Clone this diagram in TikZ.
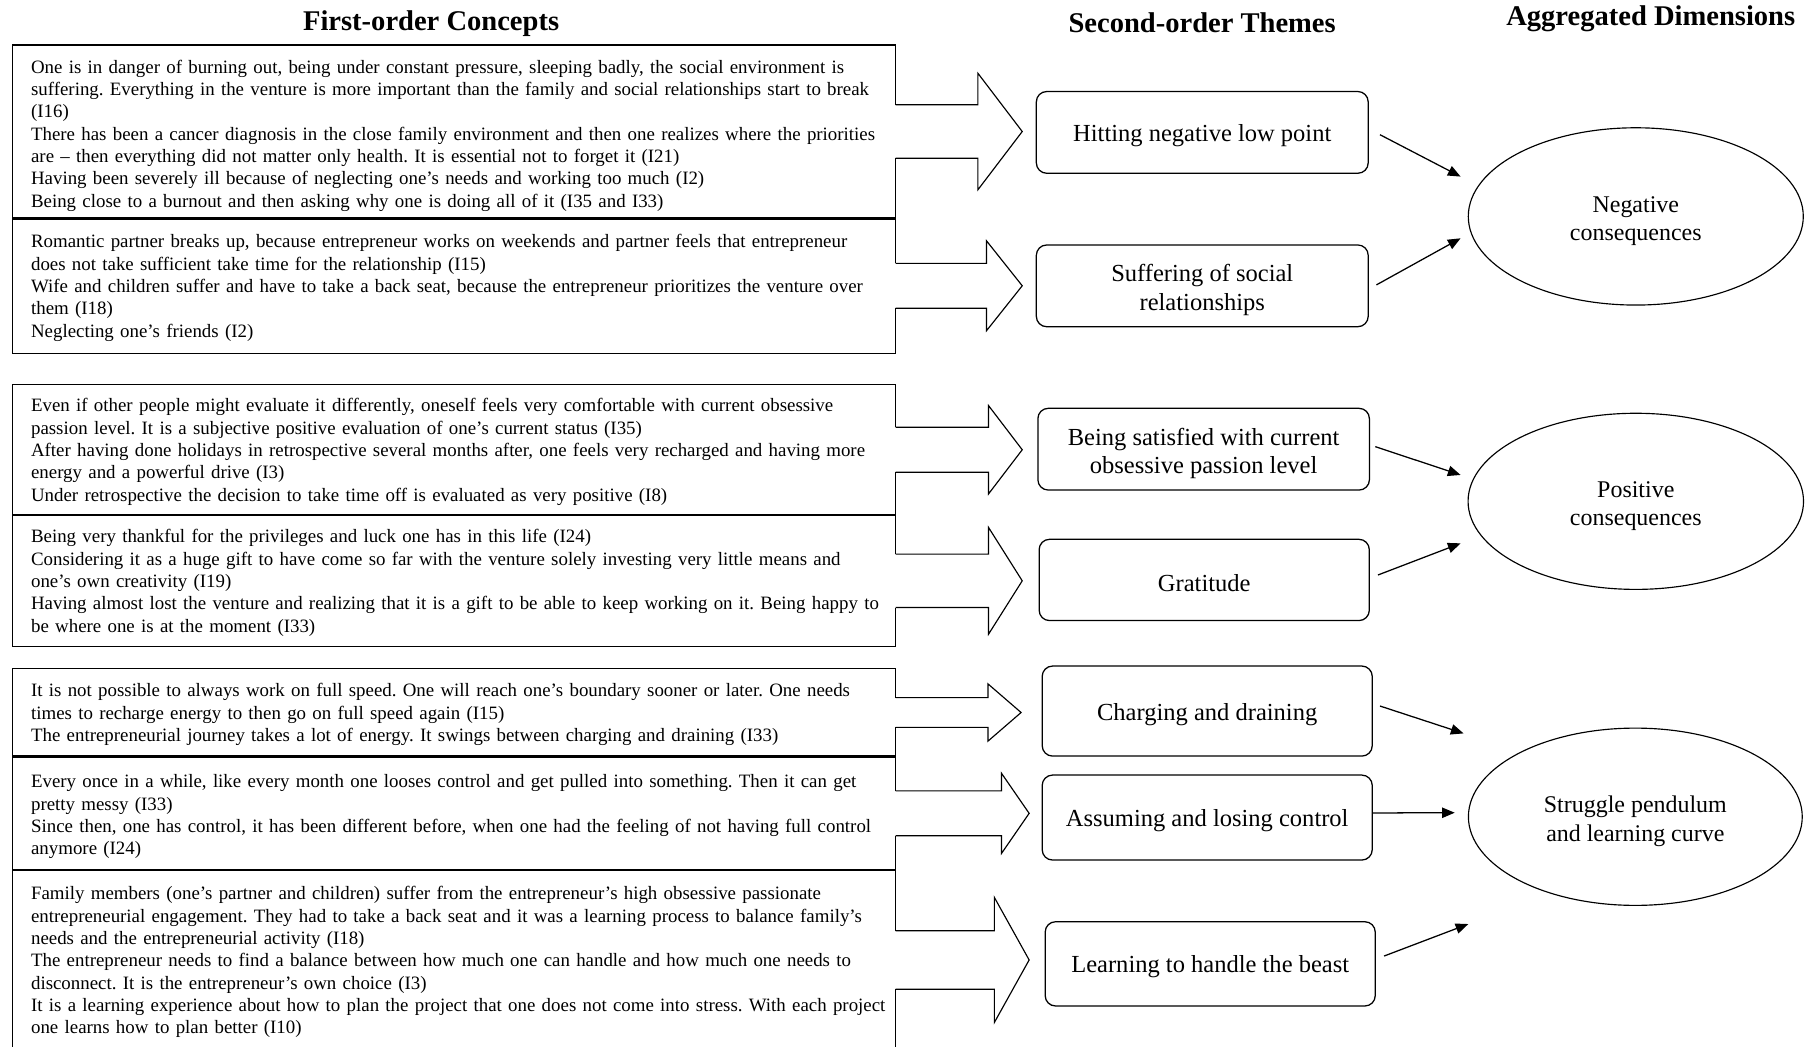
\documentclass[tikz,border=0pt]{standalone}
\usepackage{fontspec}
\setmainfont{Liberation Serif}
\usetikzlibrary{arrows.meta,calc,shapes.geometric}
\frenchspacing
\newcommand{\myBody}{\fontsize{16.4bp}{19.4bp}\selectfont}
\newcommand{\myTheme}{\fontsize{21.3bp}{24.7bp}\selectfont}
\newcommand{\myDim}{\fontsize{20.8bp}{24.4bp}\selectfont}
\newcommand{\myTitle}{\fontsize{24.8bp}{28bp}\selectfont\bfseries}
\newcommand{\toprow}[1]{\rule{0pt}{#1}}
\newcommand{\twoT}[2]{\begin{tabular}{@{}c@{}}\toprow{25.2bp}#1\\#2\end{tabular}}
\newcommand{\twoD}[2]{\begin{tabular}{@{}c@{}}\toprow{25.1bp}#1\\#2\end{tabular}}
% block arrow: node, shaft half, head half, head base dx, tip dx
\newcommand{\blockarr}[5]{%
  \fill[white] ($(#1.east)+(-1.6,-#2)$) rectangle ($(#1.east)+(1.6,#2)$);
  \draw[blk] ($(#1.east)+(0,-#2)$) -- ($(#1.east)+(#4,-#2)$) -- ($(#1.east)+(#4,-#3)$)
    -- ($(#1.east)+(#5,0)$) -- ($(#1.east)+(#4,#3)$) -- ($(#1.east)+(#4,#2)$) -- ($(#1.east)+(0,#2)$);
}
\begin{document}
\begin{tikzpicture}[x=1bp,y=-1bp,
  fo/.style={draw, line width=1.1bp, minimum width=767bp, text width=735bp, inner xsep=16bp,
     inner ysep=0pt, outer sep=0pt, align=left, anchor=north west, font=\myBody},
  theme/.style={draw, rounded corners=9bp, line width=1.1bp, align=center, font=\myTheme,
     inner sep=0pt, outer sep=0pt, execute at begin node={\rule{0pt}{20.2bp}}},
  dim/.style={draw, ellipse, line width=1bp, align=center, font=\myDim, inner sep=0pt, outer sep=0pt},
  arr/.style={line width=1.1bp, -{Triangle[length=11bp,width=9bp]}},
  blk/.style={line width=1bp, line join=miter},
  ttl/.style={font=\myTitle, anchor=base, inner sep=0pt},
  divider/.style={line width=2.4bp}
]
\useasboundingbox (0,0) rectangle (1568,909);
\fill[white] (0,0) rectangle (1568,909);

% titles
\node[ttl] (T1) at (374.5,26.5) {First-order Concepts};
\node[ttl] (T2) at (1044.3,28.5) {Second-order Themes};
\node[ttl] (T3) at (1434,22) {Aggregated Dimensions};

% first-order concept boxes
\node[fo, minimum height=150.5bp] (A1) at (11,39) {\begin{tabular}{@{}l@{}}
\toprow{20.6bp}One is in danger of burning out, being under constant pressure, sleeping badly, the social environment is\\
suffering. Everything in the venture is more important than the family and social relationships start to break\\
(I16)\\
There has been a cancer diagnosis in the close family environment and then one realizes where the priorities\\
are – then everything did not matter only health. It is essential not to forget it (I21)\\
Having been severely ill because of neglecting one’s needs and working too much (I2)\\
Being close to a burnout and then asking why one is doing all of it (I35 and I33)
\end{tabular}};
\node[fo, minimum height=117.5bp] (A2) at (11,189.5) {\begin{tabular}{@{}l@{}}
\toprow{17.6bp}Romantic partner breaks up, because entrepreneur works on weekends and partner feels that entrepreneur\\
does not take sufficient take time for the relationship (I15)\\
Wife and children suffer and have to take a back seat, because the entrepreneur prioritizes the venture over\\
them (I18)\\
Neglecting one’s friends (I2)
\end{tabular}};
\node[fo, minimum height=113.4bp] (B1) at (11,334) {\begin{tabular}{@{}l@{}}
\toprow{17.6bp}Even if other people might evaluate it differently, oneself feels very comfortable with current obsessive\\
passion level. It is a subjective positive evaluation of one’s current status (I35)\\
After having done holidays in retrospective several months after, one feels very recharged and having more\\
energy and a powerful drive (I3)\\
Under retrospective the decision to take time off is evaluated as very positive (I8)
\end{tabular}};
\node[fo, minimum height=114.3bp] (B2) at (11,447.4) {\begin{tabular}{@{}l@{}}
\toprow{17.6bp}Being very thankful for the privileges and luck one has in this life (I24)\\
Considering it as a huge gift to have come so far with the venture solely investing very little means and\\
one’s own creativity (I19)\\
Having almost lost the venture and realizing that it is a gift to be able to keep working on it. Being happy to\\
be where one is at the moment (I33)
\end{tabular}};
\node[fo, minimum height=76.7bp] (C1) at (11,580.6) {\begin{tabular}{@{}l@{}}
\toprow{17.6bp}It is not possible to always work on full speed. One will reach one’s boundary sooner or later. One needs\\
times to recharge energy to then go on full speed again (I15)\\
The entrepreneurial journey takes a lot of energy. It swings between charging and draining (I33)
\end{tabular}};
\node[fo, minimum height=98.5bp] (C2) at (11,657.3) {\begin{tabular}{@{}l@{}}
\toprow{19.6bp}Every once in a while, like every month one looses control and get pulled into something. Then it can get\\
pretty messy (I33)\\
Since then, one has control, it has been different before, when one had the feeling of not having full control\\
anymore (I24)
\end{tabular}};
\node[fo, minimum height=156.2bp] (C3) at (11,755.8) {\begin{tabular}{@{}l@{}}
\toprow{17.6bp}Family members (one’s partner and children) suffer from the entrepreneur’s high obsessive passionate\\
entrepreneurial engagement. They had to take a back seat and it was a learning process to balance family’s\\
needs and the entrepreneurial activity (I18)\\
The entrepreneur needs to find a balance between how much one can handle and how much one needs to\\
disconnect. It is the entrepreneur’s own choice (I3)\\
It is a learning experience about how to plan the project that one does not come into stress. With each project\\
one learns how to plan better (I10)
\end{tabular}};

% double dividers between adjacent boxes
\draw[divider] (A1.south west) -- (A1.south east);
\draw[divider] (B1.south west) -- (B1.south east);
\draw[divider] (C1.south west) -- (C1.south east);
\draw[divider] (C2.south west) -- (C2.south east);

% block arrows
\blockarr{A1}{23.2}{50.6}{71.5}{110}
\blockarr{A2}{19.5}{39}{79}{110}
\blockarr{B1}{19.5}{38.4}{80.7}{110}
\blockarr{B2}{23.2}{46.4}{80.7}{110}
\blockarr{C1}{12.9}{24.9}{80.2}{109}
\blockarr{C2}{19.5}{34.8}{92}{116}
\blockarr{C3}{25.4}{54.3}{85.8}{116}

% second-order themes
\node[theme, minimum width=288.3bp, minimum height=71bp] (H1) at (1044.4,115) {Hitting negative low point};
\node[theme, minimum width=288.3bp, minimum height=71bp] (H2) at (1044.4,248.3) {\twoT{Suffering of social}{relationships}};
\node[theme, minimum width=288bp, minimum height=71bp] (P1) at (1045.6,390.2) {\twoT{Being satisfied with current}{obsessive passion level}};
\node[theme, minimum width=286.8bp, minimum height=70.6bp] (P2) at (1046.1,503.8) {Gratitude};
\node[theme, minimum width=286.7bp, minimum height=78.2bp] (S1) at (1048.7,617.7) {Charging and draining};
\node[theme, minimum width=286.7bp, minimum height=73.8bp] (S2) at (1048.7,710.2) {Assuming and losing control};
\node[theme, minimum width=286.7bp, minimum height=73.2bp] (S3) at (1051.3,837.3) {Learning to handle the beast};

% aggregated dimensions
\node[dim, minimum width=291bp, minimum height=154bp] (NEG) at (1421,188) {\twoD{Negative}{consequences}};
\node[dim, minimum width=291.4bp, minimum height=153bp] (POS) at (1421,435.5) {\twoD{Positive}{consequences}};
\node[dim, minimum width=290bp, minimum height=154bp] (STR) at (1420.6,709.5) {\twoD{Struggle pendulum}{and learning curve}};

% connectors
\draw[arr] ($(H1.east)+(10.2,2)$) -- ($(NEG.west)+(-6.7,-34.6)$);
\draw[arr] ($(H2.east)+(7.1,-0.8)$) -- ($(NEG.west)+(-6.7,19)$);
\draw[arr] ($(P1.east)+(5.1,-2.2)$) -- ($(POS.west)+(-6.5,-22.9)$);
\draw[arr] ($(P2.east)+(7.5,-4.3)$) -- ($(POS.west)+(-6.5,36.5)$);
\draw[arr] ($(S1.east)+(6.7,-4.4)$) -- ($(STR.west)+(-4.2,-72.4)$);
\draw[arr] ($(S2.east)+(0,-4)$) -- ($(STR.west)+(-11.9,-3.5)$);
\draw[arr] ($(S3.east)+(7.7,-6.8)$) -- ($(STR.west)+(-0.1,93.2)$);
\end{tikzpicture}
\end{document}
